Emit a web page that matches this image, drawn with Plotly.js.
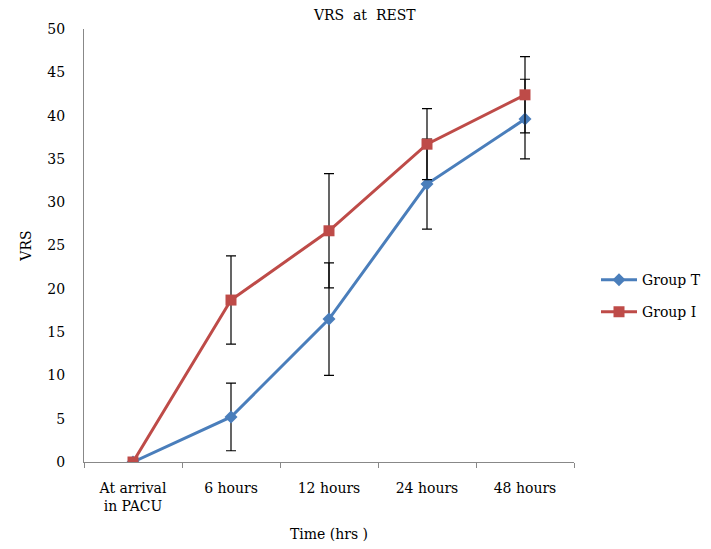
<!DOCTYPE html>
<html>
<head>
<meta charset="utf-8">
<script src="https://cdn.plot.ly/plotly-3.0.1.min.js"></script>
<style>html,body{margin:0;padding:0;background:#fff;}#chart{width:711px;height:549px;}</style>
</head>
<body>
<div id="chart"></div>
<script>
const categories = ["At arrival<br>in PACU", "6 hours", "12 hours", "24 hours", "48 hours"];
const groupT = [0, 5.2, 16.5, 32.1, 39.6];
const groupTErr = [null, 3.9, 6.5, 5.2, 4.6];
const groupI = [0, 18.7, 26.7, 36.7, 42.4];
const groupIErr = [null, 5.1, 6.6, 4.1, 4.4];
const yTicks = [0, 5, 10, 15, 20, 25, 30, 35, 40, 45, 50];

const font = "'DejaVu Serif', 'Liberation Serif', serif";

const traces = [
  {
    x: categories, y: groupT, name: "Group T", type: "scatter", mode: "lines+markers",
    line: {color: "#4a7ebb", width: 3},
    marker: {symbol: "diamond", size: 10, color: "#4a7ebb"},
    error_y: {type: "data", array: groupTErr, visible: true, color: "#000", thickness: 1.2, width: 5},
    legend: "legend"
  },
  {
    x: categories, y: groupI, name: "Group I", type: "scatter", mode: "lines+markers",
    line: {color: "#be4b48", width: 3},
    marker: {symbol: "square", size: 11, color: "#be4b48"},
    error_y: {type: "data", array: groupIErr, visible: true, color: "#000", thickness: 1.2, width: 5},
    legend: "legend2"
  }
];

const layout = {
  width: 711, height: 549,
  margin: {l: 84, r: 0, t: 29, b: 87},
  paper_bgcolor: "#fff", plot_bgcolor: "#fff",
  font: {family: font, size: 14, color: "#000"},
  title: {text: "VRS  at  REST", x: 0.513, xanchor: "center", xref: "container", y: 0.972, yanchor: "middle", font: {family: font, size: 14, color: "#000"}},
  xaxis: {
    domain: [0, 490 / 627],
    type: "category", tickson: "boundaries", ticks: "outside", ticklen: 5, tickcolor: "#888",
    showline: true, linecolor: "#888", linewidth: 1, showgrid: false, zeroline: false,
    range: [-0.5, 4.5], tickfont: {family: font, size: 14}, ticklabelstandoff: 13,
    title: {text: "Time (hrs )", font: {family: font, size: 14}, standoff: 16}
  },
  yaxis: {
    range: [0, 50], tickvals: yTicks, ticks: "", showline: true, linecolor: "#888", linewidth: 1,
    showgrid: false, zeroline: false, ticklabelstandoff: 15, tickfont: {family: font, size: 14},
    title: {text: "VRS", font: {family: font, size: 14}, standoff: 12}
  },
  showlegend: true,
  legend: {x: 512 / 627, xanchor: "left", y: 0.42, yanchor: "middle", itemwidth: 36, font: {family: font, size: 14}, bgcolor: "rgba(0,0,0,0)"},
  legend2: {x: 512 / 627, xanchor: "left", y: 0.346, yanchor: "middle", itemwidth: 36, font: {family: font, size: 14}, bgcolor: "rgba(0,0,0,0)"}
};

Plotly.newPlot("chart", traces, layout, {displayModeBar: false, staticPlot: true});
</script>
</body>
</html>
